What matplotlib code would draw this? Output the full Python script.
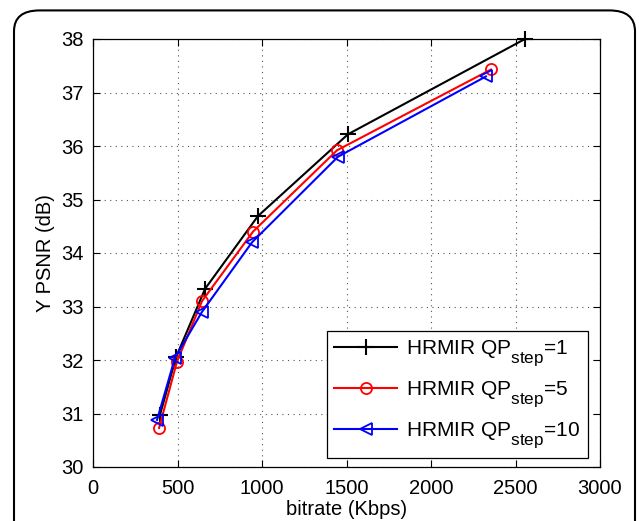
import matplotlib
matplotlib.use('Agg')
from matplotlib import pyplot as plt
from matplotlib import _mathtext
from matplotlib.patches import FancyBboxPatch

plt.rcParams['font.family'] = ['Liberation Sans', 'DejaVu Sans']
plt.rcParams['mathtext.fontset'] = 'custom'
plt.rcParams['mathtext.rm'] = 'Liberation Sans'
plt.rcParams['mathtext.it'] = 'Liberation Sans'

# subscrito maior e mais baixo, como no original
_mathtext.SHRINK_FACTOR = 0.82
_mathtext.FontConstantsBase.sub1 = 0.9

# bitrate (Kbps) e Y PSNR (dB) de cada curva
bitrate_q1 = [396, 491, 663, 976, 1509, 2556]
psnr_q1 = [30.97, 32.05, 33.33, 34.69, 36.22, 38.0]
bitrate_q5 = [391, 497, 645, 947, 1444, 2355]
psnr_q5 = [30.73, 31.97, 33.10, 34.40, 35.92, 37.43]
bitrate_q10 = [379, 485, 645, 941, 1450, 2325]
psnr_q10 = [30.88, 32.04, 32.90, 34.20, 35.80, 37.30]

rotulos = ['HRMIR QP$_{\\mathrm{step}}$=1',
           'HRMIR QP$_{\\mathrm{step}}$=5',
           'HRMIR QP$_{\\mathrm{step}}$=10']
xticks = [0, 500, 1000, 1500, 2000, 2500, 3000]
yticks = [30, 31, 32, 33, 34, 35, 36, 37, 38]

fig = plt.figure(figsize=(6.39, 5.21), dpi=100)

# moldura arredondada em volta da figura
moldura = FancyBboxPatch((14 / 639, -0.05), 621 / 639, 0.93 + 0.05 + 0.05,
                         boxstyle='round,pad=0,rounding_size=0.04',
                         transform=fig.transFigure, fill=False,
                         edgecolor='black', linewidth=1.5)
fig.patches.append(moldura)

ax = fig.add_axes([93 / 639, 1 - 467 / 521, 507 / 639, 428 / 521])

ax.plot(bitrate_q1, psnr_q1, color='black', marker='+', markersize=12,
        markeredgewidth=1.5, linewidth=1.5, label=rotulos[0], clip_on=False)
ax.plot(bitrate_q5, psnr_q5, color='red', marker='o', markersize=8,
        markerfacecolor='none', markeredgewidth=1.3, linewidth=1.5,
        label=rotulos[1], clip_on=False)
ax.plot(bitrate_q10, psnr_q10, color='blue', marker='<', markersize=9,
        markerfacecolor='none', markeredgewidth=1.3, linewidth=1.5,
        label=rotulos[2], clip_on=False)

ax.set_xlim(0, 3000)
ax.set_ylim(30, 38)
ax.set_xticks(xticks)
ax.set_yticks(yticks)
ax.tick_params(direction='in', top=True, right=True, labelsize=14.5,
               length=5, width=0.8)
ax.tick_params(axis='x', pad=9)
ax.tick_params(axis='y', pad=7)
ax.grid(True, linestyle=(0, (1, 4)), color='#555555', linewidth=0.8)
for s in ax.spines.values():
    s.set_linewidth(0.9)

ax.set_xlabel('bitrate (Kbps)', fontsize=14.5, labelpad=1)
ax.set_ylabel('Y PSNR (dB)', fontsize=14.5, labelpad=4)

leg = ax.legend(loc='lower right', fontsize=15, fancybox=False,
                edgecolor='black', framealpha=1, handlelength=3.0,
                borderpad=0.35, labelspacing=0.5, handletextpad=0.45,
                borderaxespad=0, bbox_to_anchor=(0.976, 0.02))
leg.get_frame().set_linewidth(0.9)

fig.savefig('out.png', dpi=100)
